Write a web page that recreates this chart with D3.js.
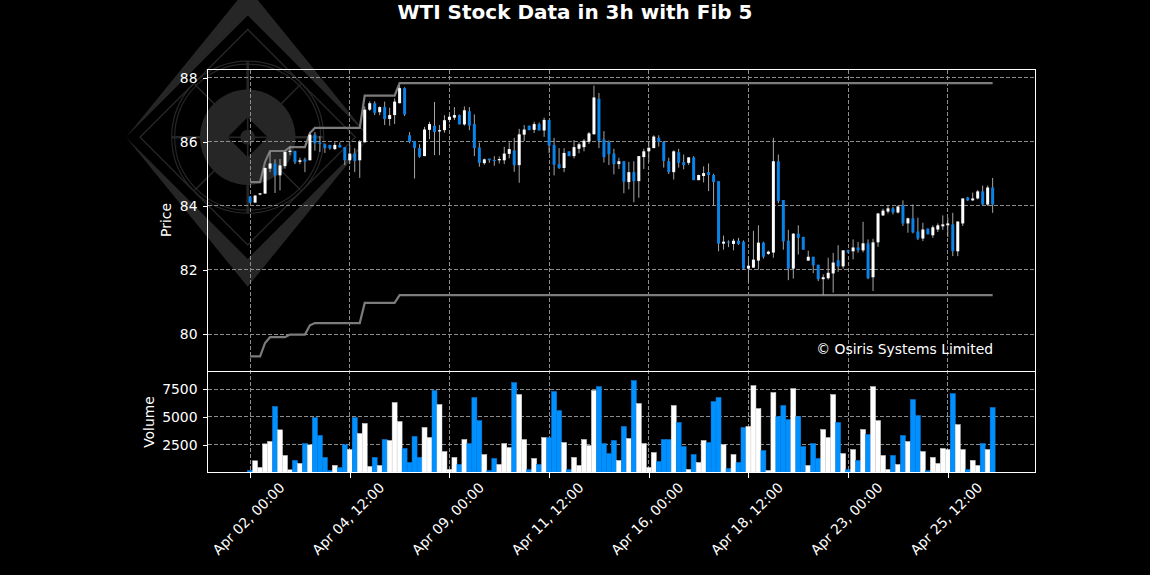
<!DOCTYPE html>
<html>
<head>
<meta charset="utf-8">
<script src="https://d3js.org/d3.v7.min.js"></script>
<style>
  html, body { margin: 0; padding: 0; background: #000; }
  svg { display: block; }
  text { font-family: "DejaVu Sans", sans-serif; fill: #fff; }
  .tick text { font-size: 13.9px; }
  .domain { display: none; }
  .tick line { stroke: #fff; stroke-width: 1; shape-rendering: crispEdges; }
</style>
</head>
<body>
<svg id="chart" width="1150" height="575"></svg>
<script>
var open = [84.29,84.10,84.35,84.38,85.16,85.32,84.95,85.24,85.68,85.71,85.37,85.45,85.42,86.22,85.98,85.92,85.90,85.77,85.90,85.83,
  85.42,85.63,85.42,85.98,87.00,87.20,86.92,87.08,86.71,86.83,87.20,87.67,86.20,86.02,85.80,85.55,86.37,86.50,86.32,86.36,
  86.68,86.75,86.83,86.54,86.95,86.55,85.82,85.33,85.47,85.43,85.42,85.42,85.62,85.73,85.27,86.22,86.50,86.37,86.55,86.35,
  86.68,85.90,85.30,85.18,85.70,85.55,85.78,85.83,86.00,86.23,87.34,86.07,85.99,85.63,85.30,85.39,84.74,85.05,84.77,85.52,
  85.70,85.80,86.12,85.99,85.39,85.05,85.67,85.36,85.34,85.51,84.80,84.93,85.05,84.96,84.77,82.82,82.88,82.81,82.91,82.88,
  82.04,82.07,82.29,82.85,82.50,82.54,85.39,84.18,82.91,82.04,83.13,83.03,82.29,82.41,82.16,81.71,81.74,81.89,82.30,82.11,
  82.61,82.58,82.70,82.61,82.83,81.77,82.86,83.70,83.82,83.92,83.79,84.01,83.45,83.61,83.20,82.98,83.29,83.08,83.26,83.36,
  83.39,83.42,82.58,83.45,84.26,84.17,84.23,84.45,84.04,84.57];
var high = [84.30,84.33,84.40,85.20,85.68,85.45,85.46,85.72,85.85,85.72,85.50,85.50,86.30,86.30,86.18,85.95,85.90,85.98,85.98,85.83,
  85.90,85.80,86.05,87.10,87.26,87.26,87.10,87.25,87.06,87.35,87.75,87.70,86.30,86.02,85.92,86.46,86.62,87.24,86.52,86.83,
  86.88,87.08,86.85,87.10,87.08,86.85,85.97,85.47,85.47,85.55,85.54,85.84,85.98,86.12,86.40,86.52,86.50,86.62,86.60,86.75,
  86.68,86.12,85.80,85.80,85.70,86.05,85.98,86.08,86.30,87.75,87.52,86.33,86.04,85.78,85.50,85.39,85.37,85.39,85.55,85.78,
  86.02,86.20,86.20,86.02,85.50,85.73,85.78,85.60,85.52,85.55,84.97,85.23,85.32,85.00,84.77,83.07,82.92,82.97,83.00,82.92,
  82.42,83.22,83.39,82.88,82.60,86.12,85.60,84.18,83.25,83.15,83.39,83.03,82.60,82.41,82.16,81.86,82.38,82.53,82.77,82.61,
  82.63,82.95,82.87,83.50,82.95,82.97,83.78,83.91,84.01,83.97,84.01,84.17,83.63,84.04,83.63,83.47,83.29,83.39,83.45,83.70,
  83.63,83.78,83.51,84.23,84.28,84.41,84.49,84.63,84.63,84.87];
var low = [84.08,84.10,84.33,84.38,85.05,84.40,84.48,85.16,85.58,85.30,85.30,85.05,85.42,85.72,85.68,85.65,85.75,85.74,85.82,85.27,
  85.30,85.05,84.87,85.98,86.96,86.83,86.83,86.52,86.50,86.55,87.20,86.80,85.95,84.85,85.50,85.55,86.08,85.58,85.58,86.28,
  86.60,86.68,86.54,86.50,86.36,85.55,85.22,85.28,85.34,85.25,85.32,85.30,85.48,85.06,84.72,86.02,86.36,86.27,86.35,86.15,
  85.64,84.95,85.15,85.05,85.55,85.48,85.64,85.70,85.93,86.23,85.80,85.35,85.27,84.98,85.15,84.39,84.51,84.11,84.25,85.15,
  85.37,85.80,85.85,85.19,84.99,84.82,85.19,85.14,85.27,84.80,84.80,84.73,84.46,84.00,82.58,82.63,82.71,82.61,82.78,82.01,
  81.62,82.07,82.01,82.35,82.47,82.38,84.08,82.63,81.68,81.73,82.48,82.63,82.29,81.90,81.65,81.21,81.70,81.29,81.94,82.04,
  82.52,82.33,82.54,82.55,81.71,81.34,82.72,83.68,83.76,83.73,83.76,83.37,83.16,83.14,82.93,82.90,83.11,83.00,83.18,83.25,
  83.03,82.43,82.43,83.37,84.15,84.15,84.20,84.03,84.00,83.78];
var close = [84.10,84.32,84.39,85.18,85.32,84.95,85.26,85.68,85.72,85.36,85.42,85.38,86.22,85.95,85.93,85.80,85.79,85.90,85.82,85.42,
  85.63,85.40,86.00,87.00,87.20,86.90,87.08,86.71,86.83,87.25,87.67,86.85,86.00,85.80,85.53,86.38,86.55,86.30,86.36,86.67,
  86.78,86.83,86.54,86.98,86.50,85.80,85.34,85.45,85.42,85.41,85.46,85.63,85.77,85.27,86.23,86.38,86.36,86.55,86.35,86.68,
  85.88,85.28,85.18,85.65,85.55,85.83,85.92,86.03,86.26,87.38,86.03,85.52,85.61,85.30,85.39,84.75,85.05,84.77,85.55,85.70,
  85.81,86.16,85.99,85.40,85.05,85.70,85.34,85.27,85.51,84.80,84.96,85.02,84.96,84.74,82.82,82.88,82.85,82.91,82.81,82.04,
  82.13,82.32,82.85,82.41,82.57,85.39,84.15,82.89,82.04,83.13,83.00,82.63,82.41,82.14,81.71,81.77,81.91,82.23,82.11,82.61,
  82.55,82.70,82.61,82.83,81.74,82.86,83.76,83.85,83.92,83.79,83.98,83.45,83.61,83.17,82.98,83.26,83.11,83.33,83.39,83.42,
  83.45,82.58,83.51,84.23,84.17,84.23,84.45,84.04,84.57,84.04];
var volume = [180,1050,450,2570,2780,5920,3830,1525,240,1080,810,2600,2480,4930,3320,1350,180,630,450,2510,
  2060,4930,3500,4400,540,1350,630,2960,2870,6280,4570,2150,900,3230,1350,4040,3140,7360,6100,1880,
  270,1350,720,2960,2600,6730,4660,1610,180,1260,720,2600,2240,8070,7000,2960,270,1260,720,3140,
  3140,7270,5560,2690,270,1350,630,2960,2420,7360,7710,2600,1700,2870,1080,4130,3050,8250,6190,2600,
  450,1790,990,2960,2960,6010,4490,2330,270,1610,900,2870,2690,6370,6730,2510,360,1610,900,4040,
  4130,7800,5740,1970,180,7180,5020,6010,4750,7530,5020,2330,630,2600,1260,3860,3140,7000,4490,1700,
  270,2060,1080,3860,3410,7710,4660,1525,270,1525,720,3320,2780,6550,5110,1880,180,1350,810,2150,
  2060,7090,4300,2060,270,1080,630,2600,2060,5830];
// fib channel, one value per bar until it goes flat
var fibUpper = [84.74,84.74,84.74,85.37,85.71,85.71,85.71,85.71,85.83,85.83,85.83,85.83,86.27,86.43];
var fibUpperSteps = [[22,86.43],[23,87.44],[29,87.44],[30,87.83],[149,87.83]];
var fibLower = [79.30,79.30,79.30,79.72,79.90,79.90,79.90,79.90,79.98,79.98,79.98,79.98,80.27,80.34];
var fibLowerSteps = [[22,80.34],[23,80.97],[29,80.97],[30,81.21],[149,81.21]];

var tickIndex = [0,20,40,60,80,100,120,140];
var tickLabels = ['Apr 02, 00:00','Apr 04, 12:00','Apr 09, 00:00','Apr 11, 12:00','Apr 16, 00:00','Apr 18, 12:00','Apr 23, 00:00','Apr 25, 12:00'];
var priceTicks = [80,82,84,86,88];
var volumeTicks = [2500,5000,7500];

var upColor = '#ffffff', downColor = '#0a82e6', volDown = '#0090ff', wickColor = '#a6a6a6', gridColor = '#8c8c8c', markColor = '#262626';

var svg = d3.select('#chart');
var W = { left: 207.5, right: 1035.5, top: 69.5, split: 371.5, bottom: 472.5 };

var x = d3.scaleLinear().domain([-8.55, 157.6]).range([W.left, W.right]);
var y = d3.scaleLinear().domain([88, 80]).range([77.6, 334]);
var yVol = d3.scaleLinear().domain([0, 7500]).range([472.5, 389]);
var step = x(1) - x(0);

// watermark
function drawMark() {
  var g = svg.append('g').attr('transform', 'translate(247.7,137.2)');
  var R = 121.7, H = 149.5;
  g.append('path')
    .attr('fill-rule', 'evenodd')
    .attr('fill', markColor)
    .attr('d', 'M' + (-R) + ',0L0,' + (-H) + 'L' + R + ',0L0,' + H + 'Z' +
               'M' + (-R) + ',0L0,' + (-R) + 'L' + R + ',0L0,' + R + 'Z');
  g.append('path').attr('fill', 'none').attr('stroke', markColor).attr('stroke-width', 1.4)
    .attr('d', 'M-107.7,0L0,-107.7L107.7,0L0,107.7Z');
  [76, 73].forEach(function(r) {
    g.append('circle').attr('r', r).attr('fill', 'none').attr('stroke', markColor).attr('stroke-width', 1.2);
  });
  g.append('circle').attr('r', 47.7).attr('fill', markColor);
  g.append('path').attr('fill', '#000').attr('d', 'M-20,0L0,-20L20,0L0,20Z');
  g.append('circle').attr('r', 7.5).attr('fill', markColor);
  g.append('path').attr('fill', 'none').attr('stroke', markColor).attr('stroke-width', 1.6)
    .attr('d', 'M0,-20V20M-20,0H20');
  var spokes = [[0,-1],[0,1],[-1,0],[1,0]].map(function(d) {
    return 'M' + d[0]*47 + ',' + d[1]*47 + 'L' + d[0]*76 + ',' + d[1]*76;
  });
  g.append('path').attr('fill', 'none').attr('stroke', markColor).attr('stroke-width', 2.6).attr('d', spokes.join(''));
  var diag = [[1,1],[1,-1],[-1,1],[-1,-1]].map(function(d) {
    return 'M' + d[0]*33 + ',' + d[1]*33 + 'L' + d[0]*53 + ',' + d[1]*53;
  });
  g.append('path').attr('fill', 'none').attr('stroke', markColor).attr('stroke-width', 1.6).attr('d', diag.join(''));
}
drawMark();

// grid
var grid = svg.append('g').attr('stroke', gridColor).attr('stroke-width', 1).attr('stroke-dasharray', '4,2')
  .attr('shape-rendering', 'crispEdges');
tickIndex.forEach(function(i) {
  grid.append('line').attr('x1', x(i)).attr('x2', x(i)).attr('y1', W.top).attr('y2', W.bottom);
});
priceTicks.forEach(function(v) {
  grid.append('line').attr('x1', W.left).attr('x2', W.right).attr('y1', y(v)).attr('y2', y(v));
});
volumeTicks.forEach(function(v) {
  grid.append('line').attr('x1', W.left).attr('x2', W.right).attr('y1', yVol(v)).attr('y2', yVol(v));
});

// fib lines
function fibPoints(head, steps) {
  var pts = head.map(function(v, i) { return [i, v]; });
  return pts.concat(steps);
}
var line = d3.line().x(function(d) { return x(d[0]); }).y(function(d) { return y(d[1]); });
[fibPoints(fibUpper, fibUpperSteps), fibPoints(fibLower, fibLowerSteps)].forEach(function(pts) {
  svg.append('path').datum(pts).attr('d', line)
    .attr('fill', 'none').attr('stroke', '#7c7c7c').attr('stroke-width', 2.2);
});

// candles
var idx = d3.range(close.length);
function barColor(i) { return close[i] >= open[i] ? upColor : downColor; }

svg.append('g').selectAll('line').data(idx).enter().append('line')
  .attr('x1', function(i) { return x(i); })
  .attr('x2', function(i) { return x(i); })
  .attr('y1', function(i) { return y(high[i]); })
  .attr('y2', function(i) { return y(low[i]); })
  .attr('stroke', wickColor).attr('stroke-width', 1);

svg.append('g').selectAll('rect').data(idx).enter().append('rect')
  .attr('x', function(i) { return x(i) - step * 0.3; })
  .attr('width', step * 0.6)
  .attr('y', function(i) { return y(Math.max(open[i], close[i])); })
  .attr('height', function(i) { return Math.max(1, Math.abs(y(open[i]) - y(close[i]))); })
  .attr('fill', barColor);

// volume bars
svg.append('g').selectAll('rect').data(idx).enter().append('rect')
  .attr('x', function(i) { return x(i) - step * 0.5; })
  .attr('width', step)
  .attr('y', function(i) { return yVol(volume[i]); })
  .attr('height', function(i) { return 472 - yVol(volume[i]); })
  .attr('fill', function(i) { return close[i] >= open[i] ? upColor : volDown; })
  .attr('stroke', function(i) { return close[i] >= open[i] ? '#dddddd' : '#0a82e6'; })
  .attr('stroke-width', 0.5);

// frames
svg.append('g').attr('fill', 'none').attr('stroke', '#fff').attr('stroke-width', 1)
  .selectAll('rect').data([[W.top, W.split], [W.split, W.bottom]]).enter().append('rect')
  .attr('x', W.left).attr('width', W.right - W.left)
  .attr('y', function(d) { return d[0]; })
  .attr('height', function(d) { return d[1] - d[0]; });

// axes
svg.append('g').attr('transform', 'translate(' + W.left + ',0)')
  .call(d3.axisLeft(y).tickValues(priceTicks).tickSize(5).tickPadding(5).tickFormat(d3.format('d')));
svg.append('g').attr('transform', 'translate(' + W.left + ',0)')
  .call(d3.axisLeft(yVol).tickValues(volumeTicks).tickSize(5).tickPadding(5).tickFormat(d3.format('d')));
var xAxis = svg.append('g').attr('transform', 'translate(0,' + W.bottom + ')')
  .call(d3.axisBottom(x).tickValues(tickIndex).tickSize(5).tickFormat(function(d) { return tickLabels[tickIndex.indexOf(d)]; }));
xAxis.selectAll('text')
  .attr('text-anchor', 'end').attr('dy', 0).attr('dx', 0).attr('y', 0)
  .attr('transform', 'translate(35,16) rotate(-45)');

// labels
svg.append('text').attr('x', 575).attr('y', 18.7).attr('text-anchor', 'middle')
  .style('font-size', '20px').style('font-weight', 'bold').text('WTI Stock Data in 3h with Fib 5');
svg.append('text').attr('transform', 'translate(171,220) rotate(-90)').attr('text-anchor', 'middle')
  .style('font-size', '13.9px').text('Price');
svg.append('text').attr('transform', 'translate(154,422) rotate(-90)').attr('text-anchor', 'middle')
  .style('font-size', '13.9px').text('Volume');
svg.append('text').attr('x', 993).attr('y', 354).attr('text-anchor', 'end')
  .style('font-size', '13.9px').text('© Osiris Systems Limited');
</script>
</body>
</html>
